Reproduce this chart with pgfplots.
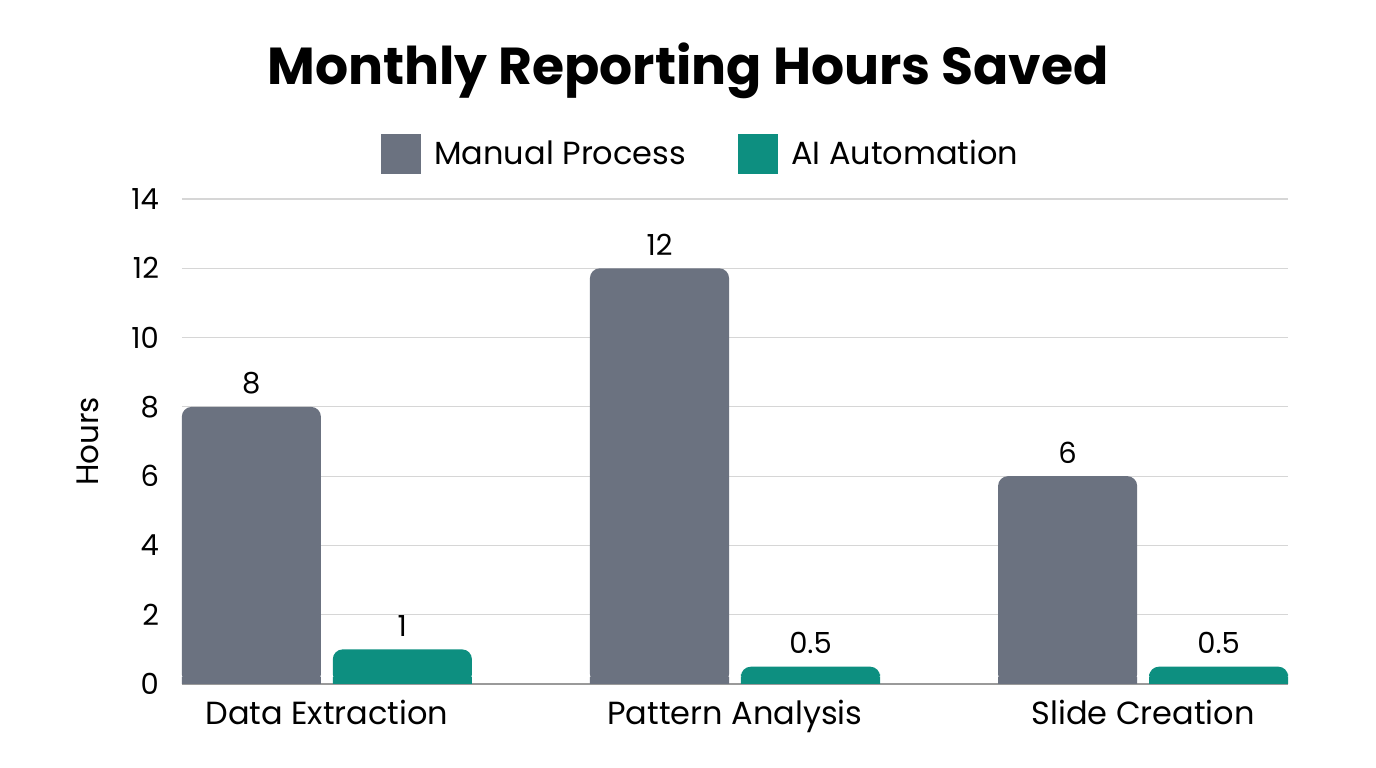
\documentclass[border=0pt]{standalone}
\usepackage{fontspec}
\setmainfont{Poppins}
\usepackage{pgfplots}
\pgfplotsset{compat=1.18}

\definecolor{manual}{HTML}{6B7280}
\definecolor{aiauto}{HTML}{0D8F80}
\definecolor{gridc}{HTML}{D6D6D6}
\definecolor{axisc}{HTML}{9A9A9A}

\begin{document}
\begin{tikzpicture}
\begin{axis}[
    scale only axis,
    width=553pt, height=242.5pt,
    ybar, bar width=0.341,
    xmin=-0.355, xmax=2.355,
    ymin=0, ymax=14,
    xtick={0,1,2},
    xticklabels={Data Extraction, Pattern Analysis, Slide Creation},
    ytick={0,2,...,14},
    ymajorgrids,
    grid style={gridc, line width=0.6pt},
    axis x line*=bottom,
    axis y line*=left,
    x axis line style={axisc, line width=0.8pt, -},
    y axis line style={draw=none},
    major tick length=0pt,
    tick style={draw=none},
    /pgf/number format/assume math mode=true,
    yticklabel style={font=\fontsize{14.5}{16}\selectfont, xshift=-8pt},
    xticklabel style={font=\fontsize{16}{18}\selectfont, yshift=-4.5pt},
    ylabel={Hours},
    every axis y label/.style={at={(axis description cs:-0.085,0.5)}, rotate=90, anchor=center, font=\fontsize{15.5}{17}\selectfont},
    legend columns=2,
    legend style={draw=none, fill=none, at={(0.47,1.093)}, anchor=center,
        font=\fontsize{16}{18}\selectfont,
        /tikz/every even column/.append style={column sep=24pt}},
    legend image code/.code={\path[#1, sharp corners, draw=none] (0pt,-10pt) rectangle (20pt,10pt); \path (24.5pt,0pt);},
    clip=false,
]
% rounded bars with value labels
\addplot[fill=manual, draw=none, rounded corners=5pt, bar shift=-0.185,
    nodes near coords, nodes near coords style={font=\fontsize{14.5}{16}\selectfont, black, yshift=3pt}]
    coordinates {(0,8) (1,12) (2,6)};
\addlegendentry{Manual Process}
\addplot[fill=aiauto, draw=none, rounded corners=5pt, bar shift=0.185,
    nodes near coords, nodes near coords style={font=\fontsize{14.5}{16}\selectfont, black, yshift=3pt}]
    coordinates {(0,1) (1,0.5) (2,0.5)};
\addlegendentry{AI Automation}
% square off the bottom corners
\addplot[fill=manual, draw=none, bar shift=-0.185, forget plot]
    coordinates {(0,0.2) (1,0.2) (2,0.2)};
\addplot[fill=aiauto, draw=none, bar shift=0.185, forget plot]
    coordinates {(0,0.2) (1,0.2) (2,0.2)};
\coordinate (sw) at (rel axis cs:0,0);
\coordinate (ne) at (rel axis cs:1,1);
\end{axis}
\node[font=\fontsize{26}{28}\selectfont\bfseries] at ([shift={(253pt,64pt)}]sw |- ne) {Monthly Reporting Hours Saved};
\pgfresetboundingbox
\path ([shift={(-91pt,-42pt)}]sw) rectangle ([shift={(44pt,99.5pt)}]ne);
\end{tikzpicture}
\end{document}
